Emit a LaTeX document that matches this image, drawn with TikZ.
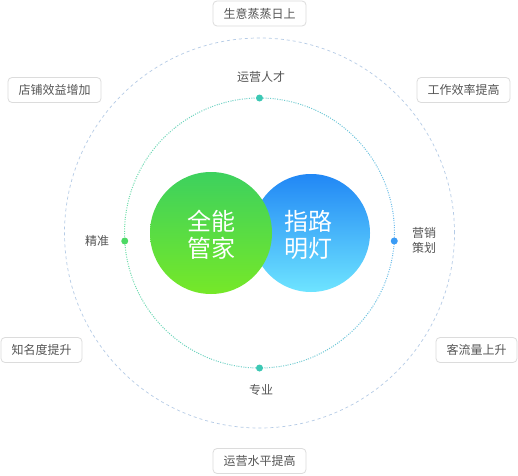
\documentclass[tikz,border=0pt]{standalone}
\usepackage{fontspec}
\setmainfont{Noto Sans CJK SC}
\usetikzlibrary{calc}
\definecolor{txtgray}{HTML}{555555}
\definecolor{boxline}{HTML}{DCDCDC}
\definecolor{outerline}{HTML}{B5CBE6}
\definecolor{ringgreen}{HTML}{6EE0A6}
\definecolor{ringblue}{HTML}{6FBCEF}
\definecolor{dotteal}{HTML}{3CC8B4}
\definecolor{dotgreen}{HTML}{4CD964}
\definecolor{dotblue}{HTML}{3A9BF5}
\definecolor{gtop}{HTML}{3DD15E}
\definecolor{gbot}{HTML}{76E828}
\definecolor{btop}{HTML}{2187F5}
\definecolor{bbot}{HTML}{6EE4FF}
\begin{document}
\begin{tikzpicture}[x=1pt,y=1pt,
  tagbox/.style={draw=boxline, line width=0.8pt, fill=white, rounded corners=4pt,
    minimum height=25pt, inner sep=0pt, text=txtgray, font=\fontsize{12}{14}\selectfont},
  ringlabel/.style={text=txtgray, font=\fontsize{12}{15}\selectfont, align=center, inner sep=0pt},
  ringdot/.style={circle, inner sep=0pt, minimum size=7pt},
  bigtext/.style={text=white, font=\fontsize{24}{27}\selectfont, align=center, inner sep=0pt}]
\useasboundingbox (0,0) rectangle (518,475);
\fill[white] (0,0) rectangle (518,475);
\coordinate (c) at (259.5,242);
% outer dashed ring
\draw[outerline, line width=0.7pt, dash pattern=on 3pt off 3pt] (c) circle[radius=195pt];
% inner dotted gradient ring
\foreach \a in {0,3,...,357}{
  \pgfmathsetmacro\p{abs(\a+1.5-180)/180*100}
  \draw[color=ringblue!\p!ringgreen, line width=1pt, dash pattern=on 1pt off 1.5pt]
    ($(c)+(\a:135pt)$) arc[start angle=\a, end angle=\a+3, radius=135pt];
}
% dots
\node[ringdot, fill=dotteal] (dtop) at ($(c)+(90:135pt)$) {};
\node[ringdot, fill=dotteal] (dbot) at ($(c)+(270:135pt)$) {};
\node[ringdot, fill=dotgreen] (dleft) at ($(c)+(183.4:135pt)$) {};
\node[ringdot, fill=dotblue] (dright) at ($(c)+(-3.4:135pt)$) {};
% ring labels
\node[ringlabel] (ltop) at (261,398) {运营人才};
\node[ringlabel] (lbot) at (261,85) {专业};
\node[ringlabel] (lleft) at (97,234) {精准};
\node[ringlabel] (lright) at (424,234.5) {营销\\策划};
% center circles
\shade[top color=btop, bottom color=bbot] (311,242) circle[radius=59pt];
\shade[top color=gtop, bottom color=gbot] (211,242) circle[radius=61pt];
\node[bigtext] (tg) at (211,240) {全能\\管家};
\node[bigtext] (tb) at (308,240) {指路\\明灯};
% outer tags
\node[tagbox, minimum width=93pt] (b1) at (259.5,461.5) {生意蒸蒸日上};
\node[tagbox, minimum width=93pt] (b2) at (54.5,385) {店铺效益增加};
\node[tagbox, minimum width=93pt] (b3) at (463.5,385) {工作效率提高};
\node[tagbox, minimum width=81pt] (b4) at (41.5,125) {知名度提升};
\node[tagbox, minimum width=81pt] (b5) at (476.5,125) {客流量上升};
\node[tagbox, minimum width=93pt] (b6) at (259.5,14) {运营水平提高};
\end{tikzpicture}
\end{document}
